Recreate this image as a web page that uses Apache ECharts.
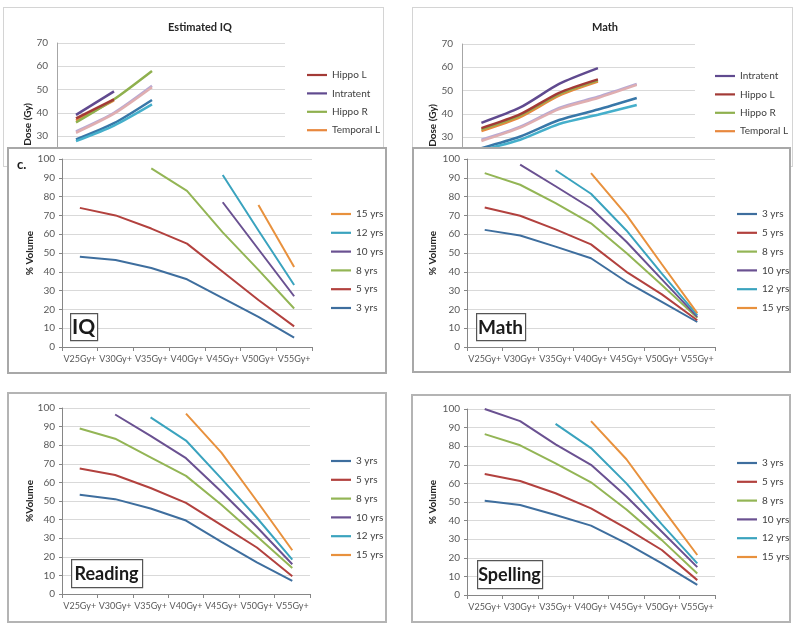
<!DOCTYPE html>
<html><head><meta charset="utf-8">
<script src="https://cdn.jsdelivr.net/npm/echarts@6/dist/echarts.min.js"></script>
<style>
body{margin:0;background:#fff;width:800px;height:631px;position:relative;overflow:hidden;font-family:Lato,sans-serif}
.panel{position:absolute;background:#fff}
.panel .c{position:absolute;left:0;top:0;width:100%;height:100%}
.panel .b{position:absolute;left:0;top:0;right:0;bottom:0;box-sizing:border-box;pointer-events:none}
</style></head><body>
<div class="panel" style="left:3px;top:7px;width:381px;height:160px"><div class="c" id="tl"></div><div class="b" style="border:1px solid #d4d4d4"></div></div>
<div class="panel" style="left:412px;top:7px;width:381px;height:160px"><div class="c" id="tr"></div><div class="b" style="border:1px solid #d4d4d4"></div></div>
<div class="panel" style="left:7px;top:147px;width:380px;height:227px"><div class="c" id="ml"></div><div class="b" style="border:2px solid #a8a8a8"></div></div>
<div class="panel" style="left:412px;top:147px;width:379px;height:226px"><div class="c" id="mr"></div><div class="b" style="border:2px solid #a8a8a8"></div></div>
<div class="panel" style="left:7px;top:392px;width:380px;height:231px"><div class="c" id="bl"></div><div class="b" style="border:2px solid #b4b4b4"></div></div>
<div class="panel" style="left:411px;top:394px;width:380px;height:229px"><div class="c" id="br"></div><div class="b" style="border:2px solid #b4b4b4"></div></div>
<script>
// ---------- data ----------
const doseCats = ['V25Gy+','V30Gy+','V35Gy+','V40Gy+','V45Gy+','V50Gy+','V55Gy+'];
const ageNames = ['3 yrs','5 yrs','8 yrs','10 yrs','12 yrs','15 yrs'];
const topCats = ['3 yrs','5 yrs','8 yrs','10 yrs','12 yrs','15 yrs'];

// Estimated IQ (dose, Gy)
const iqDoseHippoL    = [37.6, 45.8, null, null, null, null];
const iqDoseIntratent = [39.1, 49.2, null, null, null, null];
const iqDoseHippoR    = [35.8, 45.8, 58.0, null, null, null];
const iqDoseTemporalL = [36.6, 45.3, null, null, null, null];
const iqDoseTemporalR = [32.0, 40.0, 51.6, null, null, null];
const iqDoseSupratent = [31.4, 39.6, 51.0, null, null, null];
const iqDoseBrain     = [28.5, 35.5, 45.5, null, null, null];
const iqDoseOther     = [27.8, 34.5, 43.6, null, null, null];

// Math (dose, Gy)
const mDoseIntratent = [36.1, 42.7, 52.8, 59.6, null, null];
const mDoseHippoL    = [33.8, 39.8, 49.0, 54.8, null, null];
const mDoseHippoR    = [33.3, 39.3, 48.5, 54.4, null, null];
const mDoseTemporalL = [32.6, 38.6, 47.8, 53.8, null, null];
const mDoseTemporalR = [28.8, 34.4, 42.5, 47.3, 52.8, null];
const mDoseSupratent = [28.3, 34.0, 42.0, 46.8, 52.4, null];
const mDoseBrain     = [25.2, 30.2, 37.3, 41.8, 46.8, null];
const mDoseOther     = [24.3, 28.8, 35.6, 39.6, 43.8, null];

// % Volume — IQ
const iq3  = [48, 46.3, 42, 36, 26, 16, 5];
const iq5  = [74, 70, 63, 55, 40, 25, 11];
const iq8  = [null, null, 95, 83, 61, 41, 20.5];
const iq10 = [null, null, null, null, 77, 52, 27];
const iq12 = [null, null, null, null, 91.5, 62, 33];
const iq15 = [null, null, null, null, null, 75.5, 42.5];
// % Volume — Math
const ma3  = [62.3, 59.3, 53.4, 47.2, 34.7, 24, 13.3];
const ma5  = [74.2, 69.8, 62.6, 54.6, 40, 28, 14.2];
const ma8  = [92.5, 86.3, 76.5, 65.8, 50, 33, 15.5];
const ma10 = [null, 97, 85.5, 73.8, 56, 36, 16];
const ma12 = [null, null, 94, 81.5, 62, 39, 17];
const ma15 = [null, null, null, 92.5, 70.3, 44, 18];
// % Volume — Reading
const rd3  = [53.4, 51, 46, 39.5, 28, 17, 7];
const rd5  = [67.5, 64, 57, 49, 37, 25, 9.5];
const rd8  = [89, 83.5, 73.5, 63.5, 48, 31, 14];
const rd10 = [null, 96.5, 85, 73, 55, 36, 16];
const rd12 = [null, null, 95, 82.5, 62, 41, 18.5];
const rd15 = [null, null, null, 97, 76, 50, 23.5];
// % Volume — Spelling
const sp3  = [50.7, 48.4, 43, 37.3, 27.8, 17, 5.4];
const sp5  = [65, 61.3, 54.7, 46.6, 35.8, 24.2, 8];
const sp8  = [86.5, 80.5, 70.8, 60.6, 46, 29.5, 11.6];
const sp10 = [100, 93.5, 81, 70, 53, 34, 15];
const sp12 = [null, null, 92, 79, 60, 38, 17];
const sp15 = [null, null, null, 93.5, 73, 47, 21.5];

// ---------- styles ----------
const FONT = 'Lato, "Open Sans", sans-serif';
const LINE_ICON = 'path://M0,0 L20,0 L20,2.2 L0,2.2 Z';
const ageColors = ['#3E6E9E','#B2413E','#93B555','#6A5191','#3AA3BE','#E8913D'];
const structColors = {
  'Hippo L':'#A33A36','Intratent':'#604A8F','Hippo R':'#8FB04E','Temporal L':'#E8883E',
  'Temporal R':'#B7A9D4','Supratent':'#E0AEB0','Brain':'#3877A8','Other':'#45AFCB'
};
const axisGray = '#868686', gridGray = '#d9d9d9', labGray = '#595959';

function volChart(id, sets, cfg){
  const ch = echarts.init(document.getElementById(id));
  const series = sets.map((d,i)=>({
    name: ageNames[i], type:'line', data:d, symbol:'none', smooth:false,
    lineStyle:{width:2, color:ageColors[i]}, itemStyle:{color:ageColors[i]}, z:3
  }));
  const graphic = [
    {type:'rect', left:cfg.bx, top:cfg.by, shape:{width:cfg.bw, height:cfg.bh},
     style:{fill:'#fff', stroke:'#555', lineWidth:1.2}, z:10},
    {type:'text', x:cfg.bx + cfg.bw/2, y:cfg.by + cfg.bh/2 + 1, z:11,
     style:{text:cfg.label, font:'bold '+cfg.fs+'px '+FONT, fill:'#1a1a1a', align:'center', verticalAlign:'middle'}}
  ];
  if (cfg.extra) graphic.push(cfg.extra);
  ch.setOption({
    animation:false,
    textStyle:{fontFamily:FONT},
    grid:{left:cfg.gl, top:cfg.gt, width:cfg.gw, height:cfg.gh, outerBoundsMode:'none', containLabel:false},
    xAxis:{type:'category', data:doseCats, boundaryGap:true,
      axisLine:{lineStyle:{color:axisGray}},
      axisTick:{show:true, length:4, lineStyle:{color:axisGray}},
      axisLabel:{interval:0, fontSize:9, color:labGray, margin:8, fontFamily:FONT}},
    yAxis:{type:'value', min:0, max:100, interval:10,
      name:cfg.yname, nameLocation:'middle', nameRotate:90, nameGap:cfg.ng, nameMoveOverlap:false,
      nameTextStyle:{fontSize:10, fontWeight:'bold', color:'#262626', fontFamily:FONT},
      axisLine:{show:true, lineStyle:{color:axisGray}},
      axisTick:{show:true, length:3, lineStyle:{color:axisGray}},
      splitLine:{lineStyle:{color:gridGray}},
      axisLabel:{fontSize:10, color:labGray, margin:7, fontFamily:FONT}},
    legend:{orient:'vertical', left:cfg.ll, top:cfg.lt, icon:LINE_ICON, itemWidth:20, itemHeight:12, itemGap:8.8,
      data:cfg.legendOrder, textStyle:{fontSize:10, color:'#404040', fontFamily:FONT}},
    series, graphic
  });
}

function doseChart(id, title, sets, legendNames, cfg){
  const ch = echarts.init(document.getElementById(id));
  const series = sets.map(s=>({
    name:s.name, type:'line', data:s.data, symbol:'none', smooth:0.25,
    lineStyle:{width:2.5, color:structColors[s.name]}, itemStyle:{color:structColors[s.name]}
  }));
  ch.setOption({
    animation:false,
    textStyle:{fontFamily:FONT},
    title:{text:title, left:cfg.tx, top:cfg.ty, textAlign:'center',
      textStyle:{fontSize:11, fontWeight:'bold', color:'#262626', fontFamily:FONT}},
    grid:{left:cfg.gl, top:cfg.gt, width:cfg.gw, height:162.75, outerBoundsMode:'none', containLabel:false},
    xAxis:{type:'category', data:topCats, boundaryGap:true,
      axisLine:{lineStyle:{color:axisGray}}, axisTick:{show:true, lineStyle:{color:axisGray}},
      axisLabel:{fontSize:10, color:labGray}},
    yAxis:{type:'value', min:0, max:70, interval:10,
      name:'Dose (Gy)', nameLocation:'middle', nameRotate:90, nameGap:cfg.ng, nameMoveOverlap:false,
      nameTextStyle:{fontSize:10, fontWeight:'bold', color:'#262626', fontFamily:FONT},
      axisLine:{show:true, lineStyle:{color:'#a6a6a6'}},
      axisTick:{show:false},
      splitLine:{lineStyle:{color:gridGray}},
      axisLabel:{fontSize:10, color:labGray, margin:9, fontFamily:FONT}},
    legend:{orient:'vertical', left:cfg.ll, top:cfg.lt, icon:LINE_ICON, itemWidth:20, itemHeight:12, itemGap:8.4,
      data:legendNames, textStyle:{fontSize:10, color:'#404040', fontFamily:FONT}},
    series
  });
}

doseChart('tl', 'Estimated IQ', [
  {name:'Temporal R', data:iqDoseTemporalR},
  {name:'Supratent', data:iqDoseSupratent},
  {name:'Brain', data:iqDoseBrain},
  {name:'Other', data:iqDoseOther},
  {name:'Temporal L', data:iqDoseTemporalL},
  {name:'Hippo R', data:iqDoseHippoR},
  {name:'Hippo L', data:iqDoseHippoL},
  {name:'Intratent', data:iqDoseIntratent}
], ['Hippo L','Intratent','Hippo R','Temporal L'],
{tx:192, ty:10, gl:54, gt:36, gw:228, ng:24, ll:299, lt:58});

doseChart('tr', 'Math', [
  {name:'Temporal R', data:mDoseTemporalR},
  {name:'Supratent', data:mDoseSupratent},
  {name:'Brain', data:mDoseBrain},
  {name:'Other', data:mDoseOther},
  {name:'Temporal L', data:mDoseTemporalL},
  {name:'Hippo R', data:mDoseHippoR},
  {name:'Hippo L', data:mDoseHippoL},
  {name:'Intratent', data:mDoseIntratent}
], ['Intratent','Hippo L','Hippo R','Temporal L'],
{tx:188, ty:10, gl:50, gt:37, gw:233, ng:24, ll:298, lt:59});

volChart('ml', [iq3,iq5,iq8,iq10,iq12,iq15], {
  gl:55, gt:12, gw:250, gh:188, yname:'% Volume', ng:27, ll:319, lt:57,
  legendOrder:['15 yrs','12 yrs','10 yrs','8 yrs','5 yrs','3 yrs'],
  label:'IQ', fs:21, bx:63, by:166, bw:27, bh:27,
  extra:{type:'text', x:10, y:18, style:{text:'c.', font:'bold 13px '+FONT, fill:'#1a1a1a', verticalAlign:'middle'}}
});
volChart('mr', [ma3,ma5,ma8,ma10,ma12,ma15], {
  gl:55, gt:12, gw:248, gh:188, yname:'% Volume', ng:29, ll:320, lt:57,
  legendOrder:ageNames, label:'Math', fs:19, bx:64, by:166, bw:49, bh:27
});
volChart('bl', [rd3,rd5,rd8,rd10,rd12,rd15], {
  gl:55, gt:16, gw:248, gh:186, yname:'%Volume', ng:27, ll:319, lt:59,
  legendOrder:ageNames, label:'Reading', fs:18, bx:64, by:167, bw:71, bh:28
});
volChart('br', [sp3,sp5,sp8,sp10,sp12,sp15], {
  gl:56, gt:15, gw:248, gh:186, yname:'% Volume', ng:29, ll:321, lt:59,
  legendOrder:ageNames, label:'Spelling', fs:18, bx:66, by:166, bw:65, bh:28
});
</script>
</body></html>
